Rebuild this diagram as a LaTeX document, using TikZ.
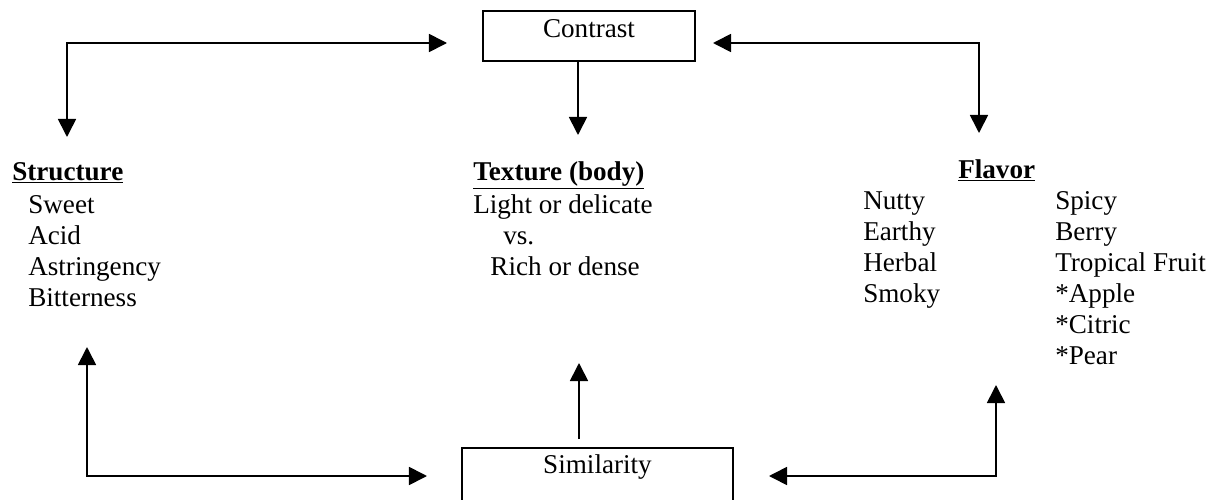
\documentclass[tikz,border=0pt]{standalone}
\usepackage{fontspec}
\setmainfont{Liberation Serif}
\usepackage{tikz}
\usetikzlibrary{arrows.meta}

\begin{document}
\begin{tikzpicture}[
    x=0.025cm, y=-0.025cm,
    every node/.style={font=\fontsize{19.3}{22}\selectfont, inner sep=0pt},
    box/.style={draw, line width=1.5pt, rectangle},
    head/.style={anchor=base west, font=\fontsize{19.3}{22}\selectfont\bfseries},
    item/.style={anchor=base west, align=left},
    link/.style={draw, line width=1.2pt, {Triangle[length=0.45cm, width=0.45cm]}-{Triangle[length=0.45cm, width=0.45cm]}},
    oneway/.style={draw, line width=1.2pt, -{Triangle[length=0.45cm, width=0.45cm]}}
]
\useasboundingbox (0,0) rectangle (1219,500);
\clip (0,0) rectangle (1219,500);

% the two boxes
\node[box, minimum width=5.3cm, text height=0.65cm, text depth=0.6cm] (contrast) at (589,36) {Contrast};
\node[box, anchor=north, minimum width=6.775cm, text height=0.625cm, text depth=1.45cm] (similarity) at (597.5,447) {Similarity};

% the three groups (base = last line)
\node[head] (structure) at (12,180) {\underline{Structure}};
\node[item] (structlist) at (28,306) {Sweet\\Acid\\Astringency\\Bitterness};
\node[head] (texture) at (473,180) {\underline{Texture (body)}};
\node[item] (texturelist) at (473,275) {Light or delicate\\\hspace{0.75cm}vs.\\\hspace{0.43cm}Rich or dense};
\node[head] (flavor) at (958,178) {\underline{Flavor}};
\node[item] (flavorleft) at (863,302) {Nutty\\Earthy\\Herbal\\Smoky};
\node[item] (flavorright) at (1055,364) {Spicy\\Berry\\Tropical Fruit\\*Apple\\*Citric\\*Pear};

% arrow ends
\coordinate (contrastleft) at (447,43);
\coordinate (contrastright) at (713,43);
\coordinate (structuretop) at (67,137);
\coordinate (texturetop) at (578,135);
\coordinate (flavortop) at (979,133);
\coordinate (structurebottom) at (87,347);
\coordinate (texturebottom) at (579,363);
\coordinate (simfoot) at (579,439);
\coordinate (flavorbottom) at (996,385);
\coordinate (similarityleft) at (427,476);
\coordinate (similarityright) at (769,476);

\draw[link] (structuretop) |- (contrastleft);
\draw[link] (contrastright) -| (flavortop);
\draw[oneway] (contrast.south -| texturetop) -- (texturetop);
\draw[link] (structurebottom) |- (similarityleft);
\draw[link] (similarityright) -| (flavorbottom);
\draw[oneway] (simfoot) -- (texturebottom);
\end{tikzpicture}
\end{document}
